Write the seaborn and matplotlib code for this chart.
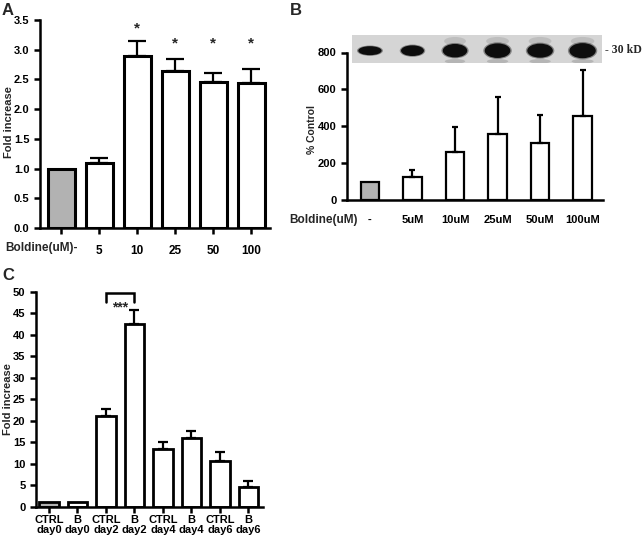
import matplotlib
matplotlib.use("Agg")
import matplotlib.pyplot as plt
import seaborn as sns
import numpy as np
from matplotlib.patches import Ellipse

# ---------------- data ----------------
a_labels = ['-', '5', '10', '25', '50', '100']
a_values = [1.0, 1.09, 2.89, 2.64, 2.45, 2.44]
a_errors = [0.0, 0.08, 0.25, 0.21, 0.16, 0.23]
a_stars = ['', '', '*', '*', '*', '*']
a_star_y = [0, 0, 3.36, 3.10, 3.10, 3.10]

b_labels = ['-', '5uM', '10uM', '25uM', '50uM', '100uM']
b_values = [100, 124, 262, 360, 309, 456]
b_errors = [0, 40, 134, 200, 154, 247]
b_band_width = [0.61, 0.60, 0.64, 0.67, 0.67, 0.69]
b_band_height = [0.32, 0.38, 0.48, 0.52, 0.50, 0.54]

c_labels = ['CTRL\nday0', 'B\nday0', 'CTRL\nday2', 'B\nday2',
            'CTRL\nday4', 'B\nday4', 'CTRL\nday6', 'B\nday6']
c_values = [1.0, 1.1, 21.1, 42.5, 13.35, 16.05, 10.7, 4.65]
c_errors = [0, 0, 1.7, 3.2, 1.65, 1.55, 2.1, 1.4]

GRAY = '#b2b2b2'

sns.set_theme(style="ticks")
plt.rcParams['font.family'] = ['Liberation Sans', 'DejaVu Sans']
plt.rcParams['font.weight'] = 'bold'
plt.rcParams['axes.labelweight'] = 'bold'

W, H = 642, 538
fig = plt.figure(figsize=(W / 100, H / 100), dpi=100)


def px_axes(x0, y0, x1, y1):
    return fig.add_axes([x0 / W, 1 - y1 / H, (x1 - x0) / W, (y1 - y0) / H])


def ftext(x, y, s, **kw):
    return fig.text(x / W, 1 - y / H, s, **kw)


def style(ax, lw=1.6):
    for s in ['top', 'right']:
        ax.spines[s].set_visible(False)
    for s in ['left', 'bottom']:
        ax.spines[s].set_linewidth(lw)
        ax.spines[s].set_color('black')
    ax.tick_params(axis='both', colors='black', width=lw, length=4,
                   labelsize=8, direction='out')
    for t in ax.get_xticklabels() + ax.get_yticklabels():
        t.set_fontweight('bold')


def bars(ax, labels, values, errors, width, lw, capsize, elw):
    colors = [GRAY] + ['white'] * (len(labels) - 1)
    sns.barplot(x=labels, y=values, hue=labels, palette=colors, order=labels,
                hue_order=labels, legend=False, width=width, saturation=1,
                edgecolor='black', linewidth=lw, errorbar=None, ax=ax)
    idx = [i for i, e in enumerate(errors) if e > 0]
    ax.errorbar(idx, [values[i] for i in idx],
                yerr=[[0] * len(idx), [errors[i] for i in idx]],
                fmt='none', ecolor='black', elinewidth=elw, capsize=capsize,
                capthick=elw, zorder=1)


# ---------------- Panel A ----------------
axA = px_axes(40, 20, 270, 228)
bars(axA, a_labels, a_values, a_errors, 0.71, 2.2, 6.5, 1.6)
axA.set_ylim(0, 3.5)
axA.set_xlim(-0.567, 5.5)
axA.set_yticks(np.arange(0, 3.51, 0.5))
axA.set_yticklabels([f'{v:.1f}' for v in np.arange(0, 3.51, 0.5)])
axA.set_xticks(range(len(a_labels)))
axA.set_xticklabels([''] + a_labels[1:])
axA.set_ylabel('')
axA.set_xlabel('')
style(axA, 1.8)
axA.tick_params(axis='x', pad=8, labelsize=8.5)
ftext(9, 122, 'Fold increase', rotation=90, ha='center', va='center',
      fontsize=8, fontweight='bold')
ftext(78, 248, 'Boldine(uM)-', ha='right', va='center', fontsize=8.5,
      fontweight='bold')
for i, (s, y) in enumerate(zip(a_stars, a_star_y)):
    if s:
        axA.text(i, y, s, ha='center', va='center', fontsize=11, fontweight='bold')

# ---------------- Panel B ----------------
bx0, bx1 = 347, 603
bxlim = (-0.54, 5.48)
axB = px_axes(bx0, 52.5, bx1, 200)
bars(axB, b_labels, b_values, b_errors, 0.43, 1.6, 2.5, 1.6)
axB.set_ylim(0, 800)
axB.set_xlim(*bxlim)
axB.set_yticks([0, 200, 400, 600, 800])
axB.set_xticks(range(len(b_labels)))
axB.set_xticklabels(b_labels)
axB.set_ylabel('')
axB.set_xlabel('')
style(axB, 1.8)
axB.tick_params(axis='x', length=0, pad=11)
ftext(312, 130, '% Control', rotation=90, ha='center', va='center',
      fontsize=7.5, fontweight='bold')
ftext(358, 220, 'Boldine(uM)', ha='right', va='center', fontsize=8.5,
      fontweight='bold')

# western blot inset
gx0, gx1 = 352, 602
axG = px_axes(gx0, 35, gx1, 63)
span = bxlim[1] - bxlim[0]
axG.set_xlim(bxlim[0] + (gx0 - bx0) / (bx1 - bx0) * span,
             bxlim[0] + (gx1 - bx0) / (bx1 - bx0) * span)
axG.set_ylim(0, 1)
axG.set_facecolor('#d5d5d5')
for s in axG.spines.values():
    s.set_visible(False)
axG.set_xticks([])
axG.set_yticks([])
for i, (bw, bh) in enumerate(zip(b_band_width, b_band_height)):
    if i >= 2:
        axG.add_patch(Ellipse((i, 0.06), bw * 0.75, 0.16,
                              facecolor='#a8a8a8', edgecolor='none', alpha=0.7))
        axG.add_patch(Ellipse((i, 0.78), bw * 0.8, 0.3,
                              facecolor='#b5b5b5', edgecolor='none', alpha=0.7))
    axG.add_patch(Ellipse((i, 0.44), bw, bh * 1.15,
                          facecolor='#444444', edgecolor='none', alpha=0.55))
    axG.add_patch(Ellipse((i, 0.44), bw * 0.9, bh,
                          facecolor='#0d0d0d', edgecolor='none'))
ftext(605, 50, '- 30 kD', fontsize=8.5, fontweight='bold',
      family=['Liberation Serif', 'DejaVu Serif'], ha='left', va='center')

# ---------------- Panel C ----------------
axC = px_axes(36, 291.7, 263, 506.7)
bars(axC, c_labels, c_values, c_errors, 0.68, 2.0, 3.5, 1.6)
axC.set_ylim(0, 50)
axC.set_xlim(-0.456, 7.51)
axC.set_yticks(range(0, 51, 5))
axC.set_xticks(range(len(c_labels)))
axC.set_xticklabels(c_labels, linespacing=1.05)
axC.set_ylabel('')
axC.set_xlabel('')
style(axC, 1.8)
axC.tick_params(axis='x', labelsize=8, pad=2)
ftext(8, 399, 'Fold increase', rotation=90, ha='center', va='center',
      fontsize=8, fontweight='bold')
axC.plot([2, 2, 3, 3], [47.7, 49.8, 49.8, 47.7], color='black', lw=1.8,
         solid_joinstyle='miter', clip_on=False)
axC.text(2.5, 46.3, '***', ha='center', va='center', fontsize=10, fontweight='bold')

# panel letters
for lbl, x, y in [('A', 2, 3), ('B', 290, 3), ('C', 2, 268)]:
    ftext(x, y, lbl, fontsize=12, fontweight='bold', ha='left', va='top')

fig.savefig('out.png', dpi=100)
